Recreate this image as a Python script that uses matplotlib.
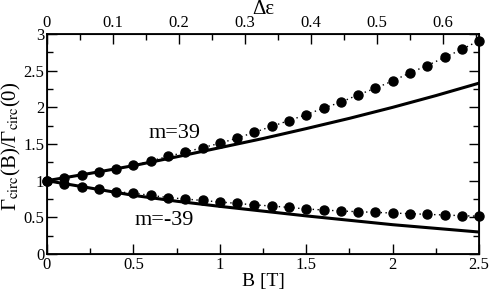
import numpy as np
import matplotlib
matplotlib.use('Agg')
import matplotlib.pyplot as plt
from matplotlib.ticker import MultipleLocator, FormatStrFormatter

plt.rcParams['font.family'] = ['Liberation Serif', 'DejaVu Serif']
plt.rcParams['mathtext.fontset'] = 'stix'

# dots: every 0.1 T
B_pts = np.round(np.arange(0, 2.51, 0.1), 2)
up_pts = [1.00, 1.04, 1.08, 1.12, 1.16, 1.21, 1.27, 1.33, 1.39, 1.45, 1.51,
          1.58, 1.66, 1.74, 1.82, 1.90, 1.99, 2.07, 2.17, 2.26, 2.36, 2.47,
          2.57, 2.68, 2.79, 2.91]
dn_pts = [1.00, 0.955, 0.914, 0.88, 0.85, 0.83, 0.80, 0.77, 0.75, 0.73, 0.71,
          0.69, 0.67, 0.655, 0.635, 0.615, 0.60, 0.587, 0.577, 0.568, 0.559,
          0.55, 0.541, 0.532, 0.523, 0.515]

# solid curves
B_line = [0, 0.25, 0.5, 0.75, 1.0, 1.25, 1.5, 1.75, 2.0, 2.25, 2.5]
up_line = [1.0, 1.10, 1.205, 1.325, 1.45, 1.575, 1.71, 1.85, 2.00, 2.16, 2.33]
dn_line = [1.0, 0.90, 0.80, 0.72, 0.65, 0.585, 0.52, 0.46, 0.40, 0.35, 0.30]

de_max = 0.655  # top axis at B = 2.5

fig = plt.figure(figsize=(4.91, 2.93), dpi=100)
ax = fig.add_axes([0.0957, 0.133, 0.88, 0.751])

ax.plot(B_line, up_line, color='black', lw=2.2)
ax.plot(B_line, dn_line, color='black', lw=2.2)
for ys in (up_pts, dn_pts):
    ax.plot(B_pts, ys, color='black', lw=1, ls=(0, (1, 2.5)),
            marker='o', ms=6.5, clip_on=False, zorder=5)

ax.text(0.74, 1.65, 'm=39', fontsize=16, ha='center', va='center')
ax.text(0.68, 0.46, 'm=-39', fontsize=16, ha='center', va='center')

ax.set_xlim(0, 2.5)
ax.set_ylim(0, 3)
ax.xaxis.set_major_locator(MultipleLocator(0.5))
ax.xaxis.set_minor_locator(MultipleLocator(0.25))
ax.yaxis.set_major_locator(MultipleLocator(0.5))
ax.yaxis.set_minor_locator(MultipleLocator(0.25))
ax.xaxis.set_major_formatter(FormatStrFormatter('%g'))
ax.yaxis.set_major_formatter(FormatStrFormatter('%g'))
ax.tick_params(which='both', direction='in', right=True, labelsize=12, pad=2)
ax.tick_params(which='major', length=7, width=1)
ax.tick_params(which='minor', length=4, width=1)
ax.set_xlabel('B [T]', fontsize=14, labelpad=0)
ax.set_ylabel('Γ$_{\\rm circ}$(B)/Γ$_{\\rm circ}$(0)', fontsize=15)
ax.yaxis.set_label_coords(-0.056, 0.49)
for s in ax.spines.values():
    s.set_linewidth(1.3)

top = ax.twiny()
top.set_xlim(0, de_max)
top.xaxis.set_major_locator(MultipleLocator(0.1))
top.xaxis.set_minor_locator(MultipleLocator(0.05))
top.xaxis.set_major_formatter(FormatStrFormatter('%g'))
top.tick_params(which='both', direction='in', labelsize=12, pad=2)
top.tick_params(which='major', length=7, width=1)
top.tick_params(which='minor', length=4, width=1)
top.set_xlabel('Δε', fontsize=15, labelpad=1)

fig.savefig('out.png', dpi=100)
